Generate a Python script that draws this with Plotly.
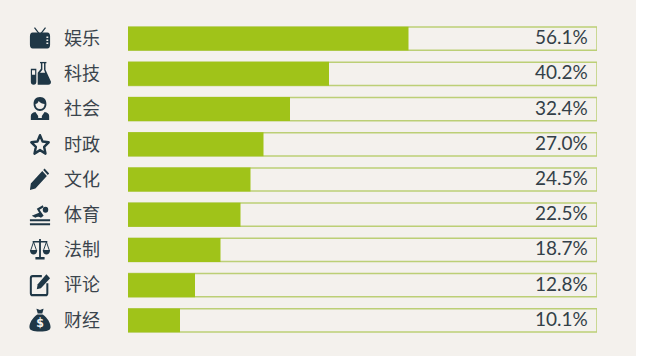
import base64
import plotly.graph_objects as go

categories = ["娱乐", "科技", "社会", "时政", "文化", "体育", "法制", "评论", "财经"]
values = [56.1, 40.2, 32.4, 27.1, 24.5, 22.5, 18.5, 13.4, 10.4]
track_max = 93.8
labels = ["56.1%", "40.2%", "32.4%", "27.0%", "24.5%", "22.5%", "18.7%", "12.8%", "10.1%"]

W, H = 658, 364
INK = "#1f3746"
GREEN = "#a0c319"
BG = "#f4f1ed"

icons = [
    # TV
    '<path d="M6 1l5 6M18 1l-5 6" stroke="{c}" stroke-width="1.4" fill="none"/>'
    '<path fill-rule="evenodd" d="M4 6H20Q23 6 23 10V18Q23 22 20 22H4Q1 22 1 18V10Q1 6 4 6ZM19 10v1.5h2V10ZM19 13v1.5h2V13ZM19 16v1.5h2V16Z" fill="{c}"/>',
    # flasks
    '<path fill-rule="evenodd" d="M2 7H8V20Q8 23 5 23Q2 23 2 20ZM3.3 8.500V13H6.7V8.500Z" fill="{c}"/>'
    '<path fill-rule="evenodd" d="M12 0H19V1.500H18V8L24 20Q24 23 21 23H9.500V11L13 7V1.500H12ZM14.600 1.500V7.800L12 11H17.600L16.400 8V1.500Z" fill="{c}"/>',
    # person
    '<path fill-rule="evenodd" d="M12 0C17 0 19 3 19 7C19 11 16 14 12 14C8 14 5 11 5 7C5 3 7 0 12 0ZM7 7C7 10 9 12 12 12C15 12 17 10 17 7C15 7 12 6 10.500 4C10 6 8.500 7 7 7Z" fill="{c}"/>'
    '<path d="M2 23V19Q2 16 7 15L10 19V21H14V19L17 15Q22 16 22 19V23Z" fill="{c}"/>',
    # star
    '<path d="M12 3L14.800 9.300L21.500 10L16.500 14.600L18 21.300L12 17.800L6 21.300L7.500 14.600L2.500 10L9.200 9.300Z" fill="none" stroke="{c}" stroke-width="2.600" stroke-linejoin="round"/>',
    # pencil
    '<path d="M17 1L22 6L20.500 7.500L15.500 2.500ZM14.500 3.500L19.500 8.500L7 21L1 22.500L2 16Z" fill="{c}"/>',
    # swimmer
    '<circle cx="18" cy="7" r="3" fill="{c}"/>'
    '<path d="M3 13L11 10L8.500 6L15 2.500L16 4.500L11.500 7L16 13L13 15Q10 13 7 15Q5 14 3 13Z" fill="{c}"/>'
    '<path d="M1 16.500H23V18.500H1ZM1 20.500H23V22.500H1Z" fill="{c}"/>',
    # scales
    '<path d="M11 1H13V19H17V21.500H7V19H11ZM4 3H20V4.500H4Z" fill="{c}"/>'
    '<path d="M1 12H9C9 18 1 18 1 12ZM15 12H23C23 18 15 18 15 12Z" fill="{c}"/>'
    '<path d="M5 4L2 12M5 4L8 12M19 4L16 12M19 4L22 12" stroke="{c}" stroke-width="1" fill="none"/>',
    # edit
    '<path d="M14 3H4Q2 3 2 5V20Q2 22 4 22H18Q20 22 20 20V10" fill="none" stroke="{c}" stroke-width="2.200"/>'
    '<path d="M19 1L23 5L13 15L8.500 16L9.500 11Z" fill="{c}"/>',
    # money bag
    '<path fill-rule="evenodd" d="M8 0L12 1.500L16 0L14.500 5H9.500ZM9 6H15C20 9 24 15 23.500 19C23 22 20 23 12 23C4 23 1 22 0.500 19C0 15 4 9 9 6Z" fill="{c}"/>'
    '<text x="12" y="19" font-family="DejaVu Sans" font-weight="bold" font-size="12" text-anchor="middle" fill="{bg}">$</text>',
]


def icon_uri(body):
    svg = ('<svg xmlns="http://www.w3.org/2000/svg" width="24" height="24" viewBox="0 0 24 24">'
           + body.format(c=INK, bg=BG) + "</svg>")
    return "data:image/svg+xml;base64," + base64.b64encode(svg.encode()).decode()


fig = go.Figure()
fig.add_bar(y=categories, x=[track_max] * len(categories), orientation="h",
            marker=dict(color=BG, line=dict(color="#bccf76", width=1.5)),
            width=0.66, hoverinfo="skip")
fig.add_bar(y=categories, x=values, orientation="h",
            marker=dict(color=GREEN, line=dict(width=0)), width=0.68)

top, bottom = 20.9, 25.9
plot_h = H - top - bottom
band = plot_h / len(categories)

images = []
for i, body in enumerate(icons):
    images.append(dict(source=icon_uri(body), xref="paper", yref="y", x=-99 / 469,
                       y=categories[i], sizex=22 / 469, sizey=24 / band,
                       xanchor="left", yanchor="middle", sizing="stretch", layer="above"))

annotations = [dict(x=track_max, y=c, text=t, xref="x", yref="y", showarrow=False,
                    xanchor="right", xshift=-7, yshift=2,
                    font=dict(family="Lato", size=19, color="#333f48"))
               for c, t in zip(categories, labels)]

fig.update_layout(
    width=W, height=H, barmode="overlay", showlegend=False,
    margin=dict(l=128, r=W - 597, t=top, b=bottom, pad=0),
    paper_bgcolor="#ffffff", plot_bgcolor=BG,
    xaxis=dict(range=[0, track_max], visible=False, fixedrange=True),
    yaxis=dict(autorange="reversed", type="category", showgrid=False, showline=False,
               ticks="", ticklabelstandoff=27, fixedrange=True, automargin=False,
               tickfont=dict(family="Noto Sans CJK SC", size=18, color="#3a444c")),
    images=images, annotations=annotations,
    shapes=[dict(type="rect", xref="paper", yref="paper", layer="below",
                 x0=-128 / 469, x1=(636 - 128) / 469,
                 y0=-(356 - (H - bottom)) / plot_h, y1=1 + top / plot_h,
                 fillcolor=BG, line=dict(width=0))],
)
fig.write_html("out.html", config=dict(displayModeBar=False),
               post_script="document.body.style.margin='0';")
